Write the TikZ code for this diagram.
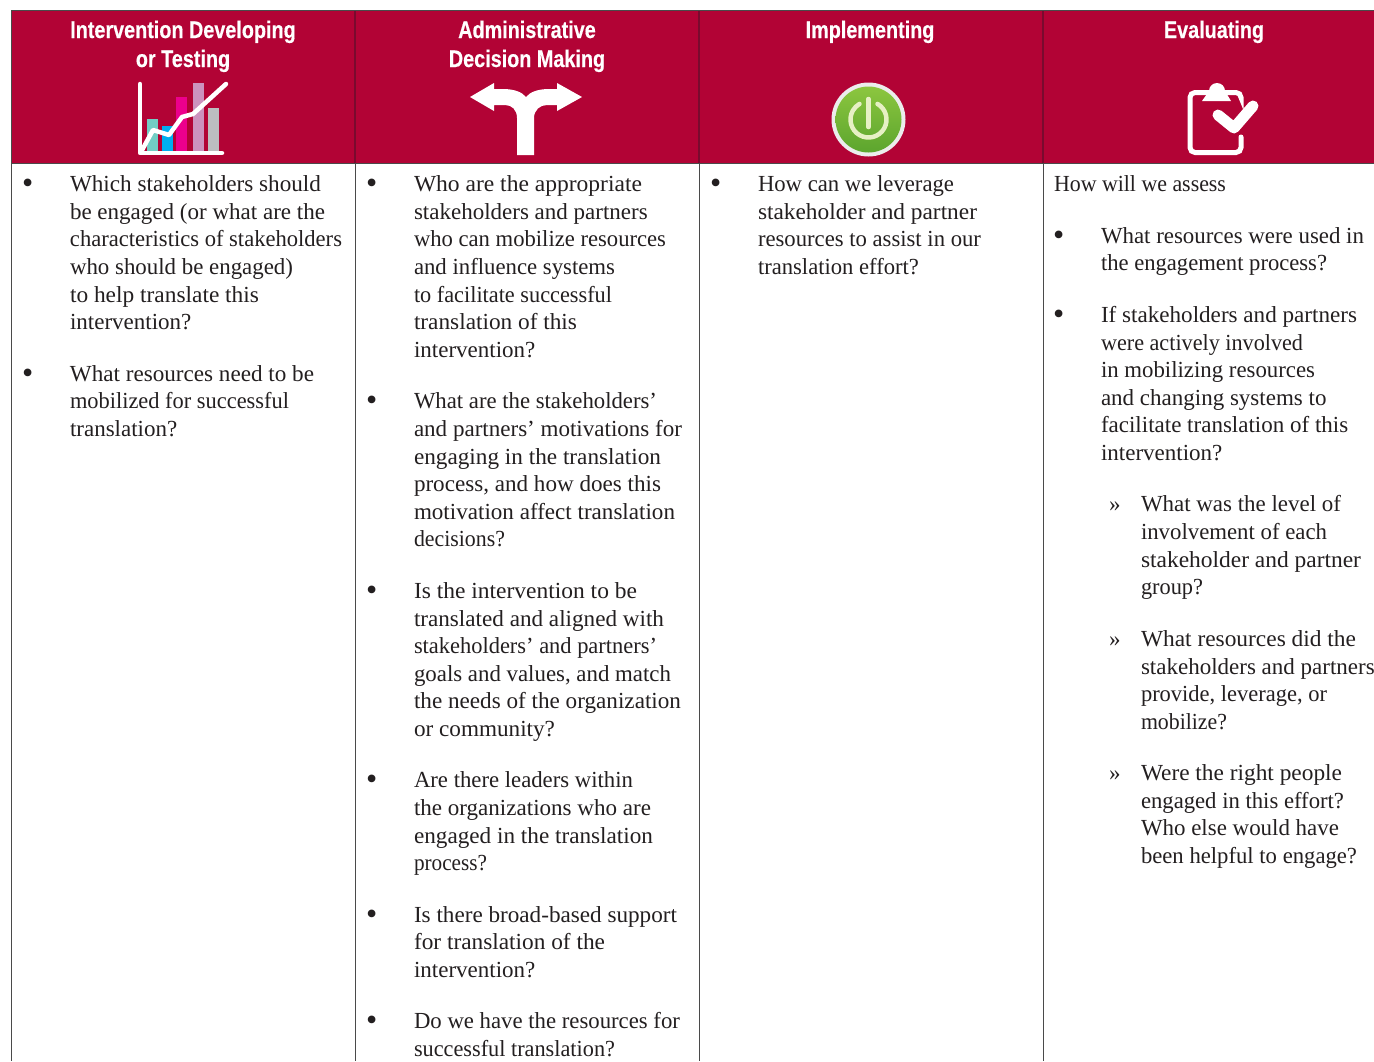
\documentclass[tikz,border=0pt]{standalone}
\usepackage{graphicx}
\usepackage{fontspec}
\setmainfont{Liberation Serif}
\newfontfamily\headfont[FakeStretch=0.825,BoldFeatures={FakeBold=0.4}]{Liberation Sans}
\definecolor{hdr}{HTML}{B20335}
\definecolor{hdrline}{HTML}{7A0A2E}
\definecolor{ink}{HTML}{231F20}
\definecolor{rule}{HTML}{4A4A4A}
\definecolor{barteal}{HTML}{72CDC4}
\definecolor{barblue}{HTML}{00AEEF}
\definecolor{barmag}{HTML}{EC008C}
\definecolor{barpink}{HTML}{CC92BE}
\definecolor{bargrey}{HTML}{BCBEC0}
\definecolor{greentop}{HTML}{8CC63F}
\definecolor{greenbot}{HTML}{5CA52E}
\definecolor{powpale}{HTML}{E6F0C4}
\newcounter{tln}
\newcommand{\tl}[3]{\stepcounter{tln}\node[bodytext] (t\arabic{tln}) at (#1,#2) {#3};}
% a line whose right end is set to a given x
\newcommand{\tlw}[4]{\stepcounter{tln}\node[bodytext] (t\arabic{tln}) at (#1,#2) {\resizebox{\dimexpr #3pt-#1pt\relax}{\height}{#4}};}
\newcommand{\bul}[2]{\stepcounter{tln}\node[bullettext] (t\arabic{tln}) at (#1-1,#2+2.7) {•};}
\newcommand{\guil}[2]{\stepcounter{tln}\node[bodytext] (t\arabic{tln}) at (#1,#2) {»};}
\tikzset{
  bodytext/.style={anchor=base west,inner sep=0pt,outer sep=0pt,text=ink,font=\fontsize{23}{27}\selectfont},
  bullettext/.style={bodytext,font=\fontsize{32}{36}\selectfont},
  headtext/.style={anchor=base,inner sep=0pt,outer sep=0pt,text=white,font=\headfont\bfseries\fontsize{24}{28}\selectfont},
  gridline/.style={draw=rule,line width=1pt},
  headline/.style={draw=hdrline,line width=2pt},
  iconline/.style={draw=white,line width=4.5pt,line cap=round,line join=round},
}
\begin{document}
\begin{tikzpicture}[x=1pt,y=-1pt]
\useasboundingbox (0,0) rectangle (1374,1061);
\fill[white] (0,0) rectangle (1374,1061);
\fill[hdr] (11.5,11) rectangle (1374,163);
\foreach \x in {355,699,1043} \draw[headline] (\x,11) -- (\x,163);
\foreach \x in {11.5,355,699,1043} \draw[gridline] (\x,163) -- (\x,1061);
\draw[gridline] (11.5,10.5) -- (11.5,163);
\draw[draw=rule,line width=1.5pt] (11,10.5) -- (1374,10.5);
\draw[gridline] (11,163.3) -- (1374,163.3);
% header text
\node[headtext] (h1a) at (183,38) {Intervention Developing};
\node[headtext] (h1b) at (183,67) {or Testing};
\node[headtext] (h2a) at (527,38) {Administrative};
\node[headtext] (h2b) at (527,67) {Decision Making};
\node[headtext] (h3) at (870,38) {Implementing};
\node[headtext] (h4) at (1214,38) {Evaluating};
% chart icon
\fill[barteal] (147,119) rectangle (158,151);
\fill[barblue] (162,126) rectangle (173,151);
\fill[barmag] (176,97) rectangle (187,151);
\fill[barpink] (193,83) rectangle (204,151);
\fill[bargrey] (208,108) rectangle (219,151);
\draw[iconline] (140,84) -- (140,153) -- (222,153);
\draw[iconline] (141,152) -- (153,130) -- (169,135) -- (182,117) -- (193,114) -- (226,84);
% split arrow icon
\fill[white] (470,97) -- (494,83) -- (494,89) -- (503,89)
  .. controls (514,89) and (522,92) .. (526,97)
  .. controls (530,92) and (538,89) .. (549,89)
  -- (557,89) -- (557,83) -- (582,97) -- (557,111) -- (557,105) -- (547,105)
  .. controls (540,105) and (534,110) .. (534,118)
  -- (534,155) -- (517,155) -- (517,118)
  .. controls (517,110) and (512,105) .. (505,105)
  -- (494,105) -- (494,111) -- cycle;
% power icon
\fill[white!85!gray] (868.5,119.5) circle[radius=37pt];
\shade[top color=greentop,bottom color=greenbot] (868.5,119.5) circle[radius=33pt];
\draw[powpale,line width=4.5pt,line cap=round] (877.5,103.9) arc[start angle=60,end angle=-240,radius=18pt];
\draw[powpale,line width=4.5pt,line cap=round] (868.5,99) -- (868.5,127);
% clipboard icon
\draw[white,line width=5pt,line cap=round,rounded corners=5pt]
  (1241,97) -- (1241,92.5) -- (1190,92.5) -- (1190,152.5) -- (1241,152.5) -- (1241,137);
\fill[white] (1202,101) -- (1209,91) arc[start angle=180,end angle=0,radius=8pt] -- (1231,101) -- cycle;
\draw[white,line width=11pt,line cap=round,line join=round] (1218,115) -- (1234,128) -- (1253,106);
% column 1
\bul{23}{191}
\tlw{70}{191}{321}{Which stakeholders should}
\tlw{70}{219}{325}{be engaged (or what are the}
\tlw{70}{246}{342}{characteristics of stakeholders}
\tlw{70}{274}{293}{who should be engaged)}
\tlw{70}{302}{259}{to help translate this}
\tl{70}{329}{intervention?}
\bul{23}{381}
\tlw{70}{381}{314}{What resources need to be}
\tlw{70}{408}{289}{mobilized for successful}
\tl{70}{436}{translation?}
% column 2
\bul{367}{191}
\tlw{414}{191}{642}{Who are the appropriate}
\tl{414}{219}{stakeholders and partners}
\tlw{414}{246}{666}{who can mobilize resources}
\tlw{414}{274}{615}{and influence systems}
\tlw{414}{302}{612}{to facilitate successful}
\tlw{414}{329}{577}{translation of this}
\tl{414}{357}{intervention?}
\bul{367}{408}
\tlw{414}{408}{657}{What are the stakeholders’}
\tlw{414}{436}{682}{and partners’ motivations for}
\tlw{414}{464}{661}{engaging in the translation}
\tlw{414}{491}{661}{process, and how does this}
\tlw{414}{519}{675}{motivation affect translation}
\tlw{414}{546}{505}{decisions?}
\bul{367}{598}
\tlw{414}{598}{637}{Is the intervention to be}
\tlw{414}{626}{664}{translated and aligned with}
\tlw{414}{653}{657}{stakeholders’ and partners’}
\tlw{414}{681}{671}{goals and values, and match}
\tlw{414}{708}{681}{the needs of the organization}
\tlw{414}{736}{555}{or community?}
\bul{367}{787}
\tlw{414}{787}{633}{Are there leaders within}
\tlw{414}{815}{651}{the organizations who are}
\tlw{414}{843}{653}{engaged in the translation}
\tlw{414}{870}{487}{process?}
\bul{367}{922}
\tlw{414}{922}{677}{Is there broad-based support}
\tlw{414}{949}{605}{for translation of the}
\tl{414}{977}{intervention?}
\bul{367}{1028}
\tlw{414}{1028}{680}{Do we have the resources for}
\tlw{414}{1056}{615}{successful translation?}
% column 3
\bul{711}{191}
\tlw{758}{191}{954}{How can we leverage}
\tlw{758}{219}{977}{stakeholder and partner}
\tlw{758}{246}{981}{resources to assist in our}
\tlw{758}{274}{919}{translation effort?}
% column 4
\tlw{1054}{191}{1226}{How will we assess}
\bul{1054}{243}
\tlw{1101}{243}{1364}{What resources were used in}
\tlw{1101}{270}{1327}{the engagement process?}
\bul{1054}{322}
\tlw{1101}{322}{1357}{If stakeholders and partners}
\tlw{1101}{350}{1303}{were actively involved}
\tlw{1101}{377}{1315}{in mobilizing resources}
\tl{1101}{405}{and changing systems to}
\tl{1101}{432}{facilitate translation of this}
\tl{1101}{460}{intervention?}
\guil{1109}{511}
\tlw{1141}{511}{1341}{What was the level of}
\tlw{1141}{539}{1327}{involvement of each}
\tlw{1141}{567}{1361}{stakeholder and partner}
\tlw{1141}{594}{1203}{group?}
\guil{1109}{646}
\tlw{1141}{646}{1356}{What resources did the}
\tl{1141}{674}{stakeholders and partners}
\tlw{1141}{701}{1327}{provide, leverage, or}
\tlw{1141}{729}{1227}{mobilize?}
\guil{1109}{780}
\tlw{1141}{780}{1342}{Were the right people}
\tlw{1141}{808}{1344}{engaged in this effort?}
\tlw{1141}{835}{1339}{Who else would have}
\tlw{1141}{863}{1357}{been helpful to engage?}
\end{tikzpicture}
\end{document}
